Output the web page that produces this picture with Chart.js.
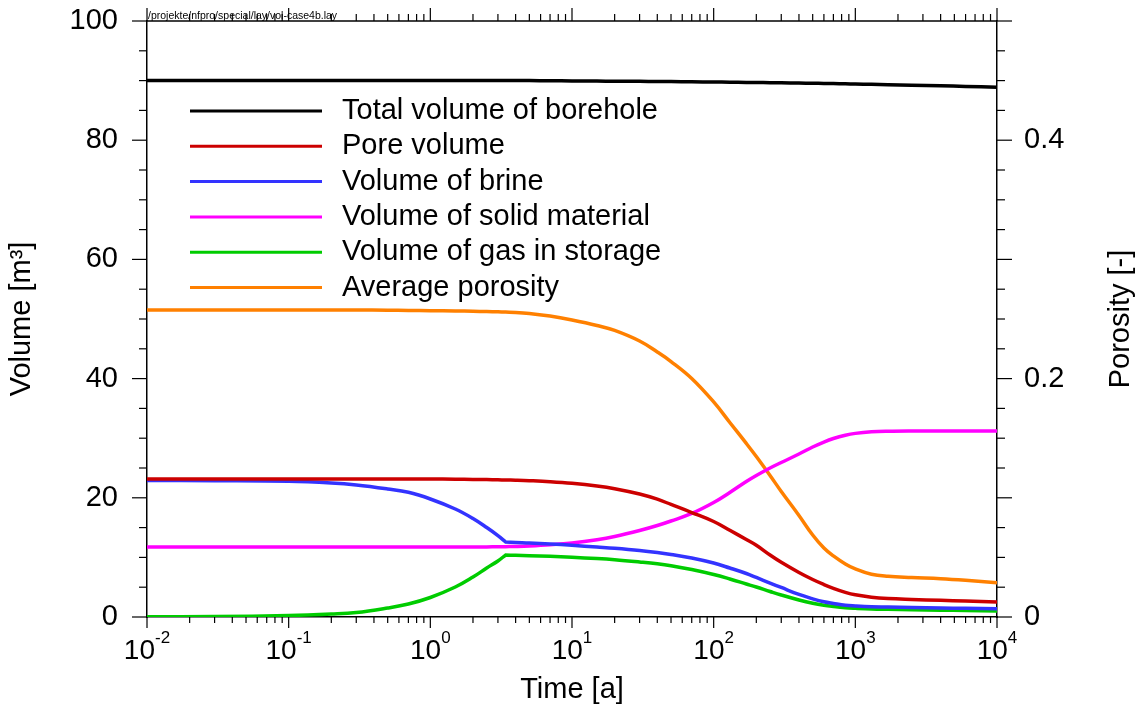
<!DOCTYPE html>
<html>
<head>
<meta charset="utf-8">
<title>Borehole volumes</title>
<script src="https://cdn.jsdelivr.net/npm/chart.js@4.4.0/dist/chart.umd.min.js"></script>
<style>
    html, body { margin: 0; padding: 0; background: #ffffff; }
    #volChart-wrap { width: 1138px; height: 711px; }
</style>
</head>
<body>
<div id="volChart-wrap"><canvas id="volChart"></canvas></div>
<script>
// Time steps [a]; 3.4 a is listed twice so the spline keeps the corner where gas starts to fill the pores
const times = [0.01, 0.03, 0.1, 0.2, 0.3, 0.5, 0.7, 1, 1.5, 2, 2.5, 3, 3.4, 3.4, 4, 5, 7, 10, 15, 20, 30, 40, 50, 70,
    100, 130, 170, 200, 250, 300, 400, 500, 600, 700, 850, 1000, 1300, 1700, 2500, 4000, 6000, 10000];

// Volumes [m3]
const totalVolume = [90.0, 90.0, 90.0, 90.0, 90.0, 90.0, 90.0, 90.0, 90.0, 90.0, 90.0, 90.0, 90.0, 90.0, 90.0, 90.0, 89.97, 89.95,
    89.92, 89.9, 89.87, 89.85, 89.83, 89.8, 89.76, 89.73, 89.7, 89.68, 89.65, 89.62, 89.58, 89.55, 89.52, 89.5, 89.46,
    89.42, 89.37, 89.32, 89.24, 89.14, 89.03, 88.9];
const poreVolume = [23.15, 23.15, 23.15, 23.15, 23.15, 23.15, 23.15, 23.15, 23.12, 23.09, 23.05, 23.02, 22.99, 22.99, 22.95,
    22.87, 22.70, 22.43, 21.98, 21.53, 20.64, 19.77, 18.88, 17.53, 16.02, 14.55, 13.00, 12.03, 10.40, 9.18, 7.47, 6.29,
    5.45, 4.82, 4.14, 3.72, 3.31, 3.09, 2.94, 2.80, 2.68, 2.52];
const brineVolume = [22.90, 22.87, 22.77, 22.48, 22.15, 21.48, 20.92, 19.80, 18.12, 16.53, 15.02, 13.67, 12.58, 12.58, 12.50,
    12.42, 12.25, 12.03, 11.74, 11.53, 11.16, 10.82, 10.49, 9.90, 9.06, 8.22, 7.30, 6.63, 5.70, 4.95, 3.78, 3.05,
    2.55, 2.27, 1.96, 1.85, 1.73, 1.68, 1.59, 1.51, 1.46, 1.39];
const solidVolume = [11.74, 11.74, 11.74, 11.74, 11.74, 11.74, 11.74, 11.74, 11.74, 11.74, 11.76, 11.78, 11.80, 11.80, 11.83,
    11.91, 12.11, 12.42, 12.97, 13.51, 14.51, 15.35, 16.11, 17.37, 19.21, 20.89, 22.73, 23.74, 25.0, 25.92, 27.35, 28.52,
    29.36, 29.95, 30.50, 30.81, 31.07, 31.17, 31.21, 31.21, 31.21, 31.21];
const gasVolume = [0.03, 0.08, 0.25, 0.5, 0.75, 1.51, 2.18, 3.27, 5.03, 6.71, 8.22, 9.40, 10.40, 10.40, 10.35,
    10.29, 10.18, 10.02, 9.80, 9.60, 9.23, 8.93, 8.61, 7.97, 7.13, 6.38, 5.54, 5.03, 4.28, 3.69, 2.85, 2.30,
    1.96, 1.76, 1.56, 1.46, 1.34, 1.28, 1.21, 1.14, 1.09, 1.01];

// Porosity [-]
const avgPorosity = [0.2576, 0.2576, 0.2576, 0.2576, 0.2576, 0.2574, 0.2572, 0.2570, 0.2567, 0.2565, 0.2562, 0.2560, 0.2558, 0.2558, 0.2555,
    0.2546, 0.2525, 0.2492, 0.2446, 0.2404, 0.2315, 0.2223, 0.2143, 0.2001, 0.1804, 0.1632, 0.1456, 0.1346, 0.1187, 0.1053, 0.0852, 0.0688,
    0.0579, 0.0512, 0.0445, 0.0403, 0.0358, 0.0341, 0.0331, 0.0321, 0.0308, 0.0288];

// Axis ticks
const volumeTicks = [0, 20, 40, 60, 80, 100];
const porosityTicks = [0, 0.2, 0.4];
const timeDecades = [-2, -1, 0, 1, 2, 3, 4];

const FONT = '"Liberation Sans", Arial, Helvetica, sans-serif';
const layFile = '/projekte/nfpro/special/lay/vol-case4b.lay';

function series(values) {
    return times.map((t, i) => ({ x: t, y: values[i] }));
}

function makeDataset(label, values, color, axis = 'y') {
    return {
        label: label,
        data: series(values),
        borderColor: color,
        backgroundColor: color,
        borderWidth: 3.5,
        pointRadius: 0,
        fill: false,
        tension: 0.4,
        yAxisID: axis,
    };
}

function strokeLine(ctx, x1, y1, x2, y2) {
    ctx.beginPath();
    ctx.moveTo(x1, y1);
    ctx.lineTo(x2, y2);
    ctx.stroke();
}

// Tick marks, exponent labels, frame top, right axis title and legend
const plotDecor = {
    id: 'plotDecor',
    afterDraw(chart) {
        const { ctx, chartArea: area, scales } = chart;
        const x = scales.x, y = scales.y, y2 = scales.y2;

        ctx.save();
        ctx.strokeStyle = '#000000';
        ctx.fillStyle = '#000000';

        // top frame line
        ctx.lineWidth = 1.5;
        strokeLine(ctx, area.left, area.top, area.right, area.top);

        // log ticks on bottom and top
        ctx.lineWidth = 1.2;
        timeDecades.forEach(e => {
            for (let m = 1; m <= 9; m++) {
                const v = m * Math.pow(10, e);
                if (v > x.max * 1.0001) break;
                const px = x.getPixelForValue(v);
                const major = m === 1;
                strokeLine(ctx, px, area.bottom, px, area.bottom + (major ? 11 : 6));
                strokeLine(ctx, px, area.top, px, area.top - (major ? 13 : 7));
            }
        });

        // left ticks every 5, long at 20
        for (let v = 0; v <= 100; v += 5) {
            const py = y.getPixelForValue(v);
            strokeLine(ctx, area.left, py, area.left - (v % 20 === 0 ? 15 : 8), py);
        }

        // right ticks every 0.025, long at 0.1
        for (let k = 0; k <= 20; k++) {
            const py = y2.getPixelForValue(k * 0.025);
            strokeLine(ctx, area.right, py, area.right + (k % 4 === 0 ? 15 : 8), py);
        }

        // exponent labels on time axis
        ctx.textBaseline = 'alphabetic';
        ctx.textAlign = 'left';
        timeDecades.forEach(e => {
            const px = x.getPixelForValue(Math.pow(10, e));
            const base = '10';
            const exp = String(e);
            ctx.font = '28px ' + FONT;
            const wb = ctx.measureText(base).width;
            ctx.font = '17px ' + FONT;
            const we = ctx.measureText(exp).width;
            const x0 = px - (wb + we) / 2;
            ctx.font = '28px ' + FONT;
            ctx.fillText(base, x0, area.bottom + 42);
            ctx.font = '17px ' + FONT;
            ctx.fillText(exp, x0 + wb, area.bottom + 26);
        });

        // right axis title, reading upwards
        ctx.save();
        ctx.translate(1121, (area.top + area.bottom) / 2);
        ctx.rotate(-Math.PI / 2);
        ctx.font = '29px ' + FONT;
        ctx.textAlign = 'center';
        ctx.textBaseline = 'middle';
        ctx.fillText('Porosity [-]', 0, 0);
        ctx.restore();

        // layout file path above the frame
        ctx.font = '10.5px ' + FONT;
        ctx.textAlign = 'left';
        ctx.textBaseline = 'alphabetic';
        ctx.fillText(layFile, area.left + 1, area.top - 2);

        // legend in the upper left of the plot
        ctx.font = '29px ' + FONT;
        ctx.textBaseline = 'middle';
        chart.data.datasets.forEach((ds, i) => {
            const rowY = 111 + i * 35.3;
            ctx.strokeStyle = ds.borderColor;
            ctx.lineWidth = 3;
            strokeLine(ctx, 190, rowY, 322, rowY);
            ctx.fillStyle = '#000000';
            ctx.fillText(ds.label, 342, rowY);
        });

        ctx.restore();
    }
};

const volChart = new Chart(document.getElementById('volChart'), {
    type: 'line',
    data: {
        datasets: [
            makeDataset('Total volume of borehole', totalVolume, '#000000'),
            makeDataset('Pore volume', poreVolume, '#cc0000'),
            makeDataset('Volume of brine', brineVolume, '#3333ff'),
            makeDataset('Volume of solid material', solidVolume, '#ff00ff'),
            makeDataset('Volume of gas in storage', gasVolume, '#00cc00'),
            makeDataset('Average porosity', avgPorosity, '#ff8000', 'y2'),
        ]
    },
    options: {
        responsive: true,
        maintainAspectRatio: false,
        animation: false,
        devicePixelRatio: 1,
        layout: { padding: { top: 21, left: 0, right: 0, bottom: 0 } },
        plugins: {
            legend: { display: false },
            tooltip: { enabled: false },
        },
        scales: {
            x: {
                type: 'logarithmic',
                position: 'bottom',
                min: 0.01,
                max: 10000,
                grid: { display: true, drawOnChartArea: false, drawTicks: false },
                border: { display: true, color: '#000000', width: 1.5 },
                ticks: { display: false },
                title: {
                    display: true,
                    text: 'Time [a]',
                    color: '#000000',
                    font: { family: FONT, size: 29 },
                    padding: { top: 0, bottom: 4 },
                },
                afterFit(scale) { scale.height = 94; },
            },
            y: {
                type: 'linear',
                position: 'left',
                min: 0,
                max: 100,
                afterBuildTicks(scale) { scale.ticks = volumeTicks.map(v => ({ value: v })); },
                // invisible tick marks only reserve the gap before the labels
                grid: { display: true, drawOnChartArea: false, drawTicks: true, tickLength: 29, tickColor: 'rgba(0,0,0,0)' },
                border: { display: true, color: '#000000', width: 1.5 },
                ticks: {
                    color: '#000000',
                    font: { family: FONT, size: 29 },
                    padding: 0,
                    autoSkip: false,
                    callback: v => String(v),
                },
                title: {
                    display: true,
                    text: 'Volume [m³]',
                    color: '#000000',
                    font: { family: FONT, size: 29 },
                    padding: { top: 5, bottom: 0 },
                },
                afterFit(scale) { scale.width = 147; },
            },
            y2: {
                type: 'linear',
                position: 'right',
                min: 0,
                max: 0.5,
                afterBuildTicks(scale) { scale.ticks = porosityTicks.map(v => ({ value: v })); },
                grid: { display: true, drawOnChartArea: false, drawTicks: true, tickLength: 27, tickColor: 'rgba(0,0,0,0)' },
                border: { display: true, color: '#000000', width: 1.5 },
                ticks: {
                    color: '#000000',
                    font: { family: FONT, size: 29 },
                    padding: 0,
                    autoSkip: false,
                    callback: v => (v === 0 ? '0' : v.toFixed(1)),
                },
                afterFit(scale) { scale.width = 141; },
            },
        },
    },
    plugins: [plotDecor],
});
</script>
</body>
</html>
